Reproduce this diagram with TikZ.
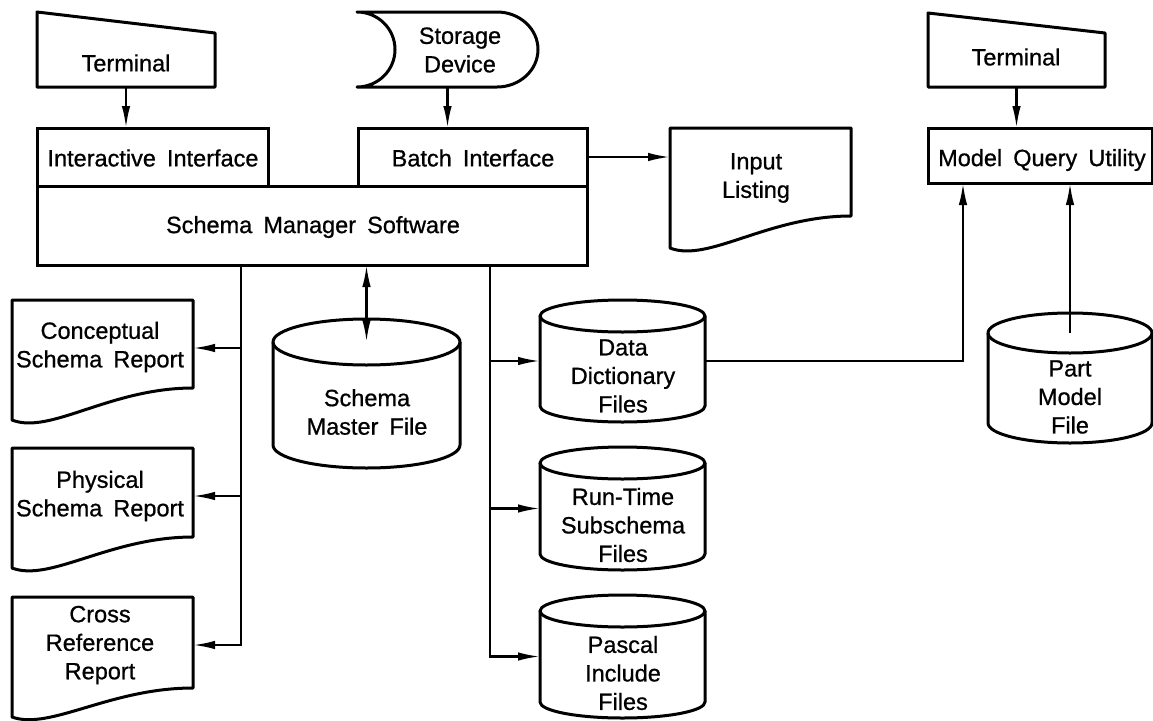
\documentclass[tikz,border=0pt]{standalone}
\usepackage{fontspec}
\setmainfont{Liberation Sans}[WordSpace=1.7, RawFeature={embolden=0.8}]
\usetikzlibrary{arrows.meta,fit,calc}
\tikzset{
  frame/.style={draw=none, inner sep=0pt, outer sep=0pt},
  rectbox/.style={draw, line width=3pt, inner sep=0pt, outer sep=0pt},
  shp/.style={line width=3pt, line join=round},
  lbl/.style={font=\fontsize{23.5}{28.5}\selectfont, align=center, inner sep=0pt},
  conn/.style={line width=2.3pt},
  arr/.style={-{Latex[length=22pt,width=8.5pt]}},
  darr/.style={{Latex[length=22pt,width=8.5pt]}-{Latex[length=22pt,width=8.5pt]}}
}
% cylinder: name, x1, y1, x2, y2, ry
\newcommand\mycyl[6]{%
  \node[frame, fit={(#2,#3)(#4,#5)}] (#1) {};
  \draw[shp] ({(#2+#4)/2},{#3+#6}) ellipse[x radius={(#4-#2)/2*1pt}, y radius={#6*1pt}];
  \draw[shp] (#2,{#3+#6}) -- (#2,{#5-#6}) arc[start angle=180, end angle=360, x radius={(#4-#2)/2*1pt}, y radius={#6*1pt}] -- (#4,{#3+#6});
}
% document: name, x1, y1, x2, yLeftBottom, yRightBottom
\newcommand\mydoc[6]{%
  \node[frame, fit={(#2,#3)(#4,#5)}] (#1) {};
  \draw[shp] (#2,#5) -- (#2,#3) -- (#4,#3) -- (#4,#6)
    .. controls ({#2+0.54*(#4-#2)},#6) and ({#2+0.21*(#4-#2)},{#5+0.47*(#5-#6)}) .. (#2,#5) -- cycle;
}
% terminal: name, x1, y1, x2, y2, drop of top right
\newcommand\myterm[6]{%
  \node[frame, fit={(#2,#3)(#4,#5)}] (#1) {};
  \draw[shp] (#2,#3) -- (#4,{#3+#6}) -- (#4,#5) -- (#2,#5) -- cycle;
}
\begin{document}
\begin{tikzpicture}[x=1pt,y=-1pt]
\useasboundingbox (0,0) rectangle (1153,720);

% top row
\myterm{term1}{37}{12}{215}{87}{21}
\node[lbl] (term1t) at (126,63) {Terminal};

\node[frame, fit={(357,12)(538,87)}] (stor) {};
\draw[shp] (357,12) -- (497,12) arc[start angle=90, end angle=-90, x radius=41pt, y radius=37.5pt]
  -- (357,87) arc[start angle=-90, end angle=90, x radius=38pt, y radius=37.5pt] -- cycle;
\node[lbl] (stort) at (460,50) {Storage\\Device};

\myterm{term2}{928}{13}{1105}{87}{20}
\node[lbl] (term2t) at (1016,57) {Terminal};

% interface boxes
\node[rectbox, fit={(37,186)(587,265)}] (smsw) {};
\node[lbl] (smswt) at (313,227) {Schema Manager Software};
\node[rectbox, fit={(37,128)(268,186)}] (ii) {};
\node[lbl] (iit) at (153,158) {Interactive Interface};
\node[rectbox, fit={(358,128)(587,186)}] (bi) {};
\node[lbl] (bit) at (473,158) {Batch Interface};
\node[rectbox, fit={(928,128)(1152,183)}] (mqu) {};
\node[lbl] (mqut) at (1042,160) {Model Query Utility};

% input listing
\mydoc{il}{670}{128}{851}{248}{216}
\node[lbl] (ilt) at (756,178) {Input\\Listing};

% reports
\mydoc{csr}{12}{300}{193}{420}{388}
\node[lbl] (csrt) at (100,347) {Conceptual\\Schema Report};
\mydoc{psr}{12}{448}{193}{568}{537}
\node[lbl] (psrt) at (100,496) {Physical\\Schema Report};
\mydoc{crr}{12}{597}{193}{717}{688}
\node[lbl] (crrt) at (100,645) {Cross\\Reference\\Report};

% files
\mycyl{smf}{273}{319}{460}{468}{23}
\node[lbl] (smft) at (367,412) {Schema\\Master File};
\mycyl{dd}{540}{300}{705}{422}{16}
\node[lbl] (ddt) at (623,376) {Data\\Dictionary\\Files};
\mycyl{rt}{540}{447}{705}{570}{16}
\node[lbl] (rtt) at (623,525) {Run-Time\\Subschema\\Files};
\mycyl{pi}{540}{595}{705}{718}{16}
\node[lbl] (pit) at (623,673) {Pascal\\Include\\Files};
\mycyl{pmf}{988}{313}{1152}{443}{20}
\node[lbl] (pmft) at (1070,397) {Part\\Model\\File};

% connectors
\draw[conn,arr] (term1.south) -- (term1.south |- ii.north);
\draw[conn,arr] (stor.south) -- (stor.south |- bi.north);
\draw[conn,arr] (term2.south) -- (term2.south |- mqu.north);
\draw[conn,arr] (bi.east) -- (bi.east -| il.west);

\coordinate (tl) at ([xshift=204pt]smsw.south west);
\coordinate (tr) at ([xshift=453pt]smsw.south west);
\coordinate (csrp) at ([yshift=12pt]csr.east);
\coordinate (psrp) at ([yshift=12pt]psr.east);
\coordinate (crrp) at ([yshift=12pt]crr.east);
\draw[conn,arr] (tl) |- (crrp);
\draw[conn,arr] (tl |- csrp) -- (csrp);
\draw[conn,arr] (tl |- psrp) -- (psrp);

\draw[conn,arr] (tr) |- (pi.west);
\draw[conn,arr] (tr |- dd.west) -- (dd.west);
\draw[conn,arr] (tr |- rt.west) -- (rt.west);

\coordinate (smftop) at ([yshift=-23pt]smf.north);
\draw[conn,darr] (smftop) -- (smftop |- smsw.south);

\coordinate (pmftop) at ([yshift=-20pt]pmf.north);
\draw[conn,arr] (pmftop) -- (pmftop |- mqu.south);

\draw[conn,arr] (dd.east) -| ([xshift=35pt]mqu.south west);
\end{tikzpicture}
\end{document}
